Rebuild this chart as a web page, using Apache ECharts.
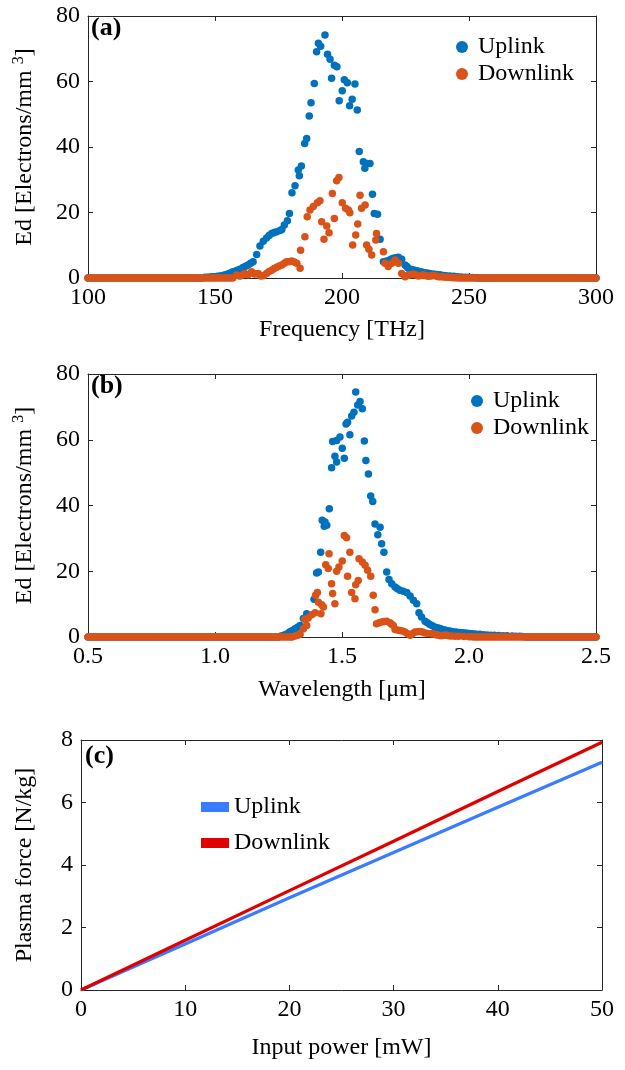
<!DOCTYPE html>
<html>
<head>
<meta charset="utf-8">
<script src="https://cdn.jsdelivr.net/npm/echarts@6/dist/echarts.min.js"></script>
<style>
html, body { margin: 0; padding: 0; background: #fff; }
#main { width: 625px; height: 1070px; }
</style>
</head>
<body>
<div id="main"></div>
<script>
// (a) Ed vs frequency [THz, Ed]
var uplinkFreq = [
	[100,0],[101,0],[102,0],[103,0],[104,0],[105,0],[106,0],[107,0],[108,0],[109,0],[110,0],[111,0],
	[112,0],[113,0],[114,0],[115,0],[116,0],[117,0],[118,0],[119,0],[120,0],[121,0],[122,0],[123,0],
	[124,0],[125,0],[126,0],[127,0],[128,0],[129,0],[130,0],[131,0],[132,0],[133,0],[134,0],[135,0],
	[136,0],[137,0],[138,0],[139,0],[140,0],[141,0],[142,0],[143,0],[144,0],[145,0],
	[146,0.2],[147,0.25],[148,0.3],[149,0.35],[150,0.4],[151,0.5],[152,0.6],[153,0.8],[154,1.0],[155,1.2],
	[156,1.5],[157,1.9],[158.5,2.3],[159.7,2.7],[161,3.2],[162,3.6],[163,4.0],[164,4.5],[165,5.0],
	[166.4,7.2],[167.7,9.8],[169,11.2],[170.3,12.2],[171.3,13.0],[172.3,13.6],[173.3,13.9],[174.3,14.1],
	[175.6,14.5],[176.3,14.8],[177.3,16.2],[178.5,17.5],[179.3,19.7],[180.3,26],[181.5,28.2],[182.8,33],
	[183.2,31.2],[184,34.2],[185.3,41.1],[186.1,42.6],[187.1,49.5],[187.8,53.5],[189.1,59.4],[190,69.1],
	[190.7,71.7],[191.6,70.8],[193.3,74.2],[194.3,68.3],[195.3,66.8],[195.9,61],[197,65],[198,64.5],
	[198.9,54.1],[200.1,57.2],[200.9,60.5],[202.1,59.6],[203,52.6],[204,54.6],[205.1,59.2],[206,51.3],
	[206.8,38.6],[208.4,35.5],[209,33.5],[209.7,35],[211,35],[212,25.6],[212.7,19.7],[214,19.5],[215,11.8],
	[216.3,5.0],[217.2,5.1],[218.2,5.3],[219.2,5.7],[220.2,6.0],[221.2,6.2],[222.2,6.3],[223.5,5.7],
	[224.8,4.0],[225.5,3.5],[226.1,3.0],[227.5,2.6],[228.5,2.4],[229.5,2.2],[230.5,2.0],[231.5,1.8],
	[232.5,1.6],[233.5,1.5],[234.5,1.4],[236,1.2],[237.3,1.1],[238.6,1.0],[240,0.8],[241,0.7],[242.5,0.6],
	[244,0.5],[245.5,0.4],[247,0.3],[248.5,0.25],[250,0.2],[251.5,0.15],[253,0.1],
	[254,0],[255,0],[256,0],[257,0],[258,0],[259,0],[260,0],[261,0],[262,0],[263,0],[264,0],[265,0],
	[266,0],[267,0],[268,0],[269,0],[270,0],[271,0],[272,0],[273,0],[274,0],[275,0],[276,0],[277,0],
	[278,0],[279,0],[280,0],[281,0],[282,0],[283,0],[284,0],[285,0],[286,0],[287,0],[288,0],[289,0],
	[290,0],[291,0],[292,0],[293,0],[294,0],[295,0],[296,0],[297,0],[298,0],[299,0],[300,0]
];
var downlinkFreq = [
	[100,0],[101,0],[102,0],[103,0],[104,0],[105,0],[106,0],[107,0],[108,0],[109,0],[110,0],[111,0],
	[112,0],[113,0],[114,0],[115,0],[116,0],[117,0],[118,0],[119,0],[120,0],[121,0],[122,0],[123,0],
	[124,0],[125,0],[126,0],[127,0],[128,0],[129,0],[130,0],[131,0],[132,0],[133,0],[134,0],[135,0],
	[136,0],[137,0],[138,0],[139,0],[140,0],[141,0],[142,0],[143,0],[144,0],[145,0],[146,0],[147,0],
	[148,0],[149,0],[150,0],[151,0],[152,0],[153,0],[154,0],[155,0],[156,0],[157,0],
	[158.5,0.9],[159.3,0.7],[160,0.6],[161,1.0],[161.8,1.4],[163,1.0],[164.4,1.9],[165.5,1.2],[166.2,1.3],
	[167,1.4],[168,0.6],[169,0.7],[170.3,1.4],[171.3,2.0],[172.3,2.4],[173.3,2.9],[174.3,3.3],[175.3,3.7],
	[176.3,4.0],[177.3,4.5],[178.2,5.0],[179.2,5.0],[180.2,5.2],[181.2,4.9],[182.2,4.5],[183.5,3.0],
	[183.7,8.5],[185.4,12.6],[186.3,18.7],[187.4,20.8],[188.7,21.8],[190.3,23],[191.3,23.6],[192,17.2],
	[192.9,11.8],[194,15.9],[194.9,13.8],[196.2,25.8],[197,18.2],[197.9,29.7],[198.8,30.7],[200.1,23],
	[201.4,21.3],[202.5,20.8],[203.1,19.9],[204.2,10.1],[205.4,13.1],[206.2,16.5],[207.1,25.3],[207.7,21.3],
	[209.1,22.3],[209.7,10.1],[210.6,8.8],[211.7,7.0],[213.3,11.6],[213.6,13.6],[216.3,8.0],[216.9,4.5],
	[218.2,3.5],[219.6,4.5],[220.9,5.5],[222.2,4.5],[223.5,1.4],[224.8,0.4],[225,0.6],[226,0.8],[227,1.0],
	[228,1.2],[229,0.9],[230,0.6],[231,0.8],[232,1.0],[233,0.7],[234,0.5],[235,0.6],[236,0.8],[237,0.6],
	[238,0.4],[239,0.35],[240,0.3],[241,0.25],[242,0.2],[243,0.15],[244,0.1],[245,0.1],
	[246,0],[247,0],[248,0],[249,0],[250,0],[251,0],[252,0],[253,0],[254,0],[255,0],[256,0],[257,0],
	[258,0],[259,0],[260,0],[261,0],[262,0],[263,0],[264,0],[265,0],[266,0],[267,0],[268,0],[269,0],
	[270,0],[271,0],[272,0],[273,0],[274,0],[275,0],[276,0],[277,0],[278,0],[279,0],[280,0],[281,0],
	[282,0],[283,0],[284,0],[285,0],[286,0],[287,0],[288,0],[289,0],[290,0],[291,0],[292,0],[293,0],
	[294,0],[295,0],[296,0],[297,0],[298,0],[299,0],[300,0]
];

// (b) Ed vs wavelength [um, Ed]
var uplinkWave = [
	[0.5,0],[0.51,0],[0.52,0],[0.53,0],[0.54,0],[0.55,0],[0.56,0],[0.57,0],[0.58,0],[0.59,0],
	[0.6,0],[0.61,0],[0.62,0],[0.63,0],[0.64,0],[0.65,0],[0.66,0],[0.67,0],[0.68,0],[0.69,0],
	[0.7,0],[0.71,0],[0.72,0],[0.73,0],[0.74,0],[0.75,0],[0.76,0],[0.77,0],[0.78,0],[0.79,0],
	[0.8,0],[0.81,0],[0.82,0],[0.83,0],[0.84,0],[0.85,0],[0.86,0],[0.87,0],[0.88,0],[0.89,0],
	[0.9,0],[0.91,0],[0.92,0],[0.93,0],[0.94,0],[0.95,0],[0.96,0],[0.97,0],[0.98,0],[0.99,0],
	[1.0,0],[1.01,0],[1.02,0],[1.03,0],[1.04,0],[1.05,0],[1.06,0],[1.07,0],[1.08,0],[1.09,0],
	[1.1,0],[1.11,0],[1.12,0],[1.13,0],[1.14,0],[1.15,0],[1.16,0],[1.17,0],[1.18,0],[1.19,0],
	[1.2,0],[1.21,0],[1.22,0],[1.23,0],[1.24,0],[1.25,0],
	[1.26,0.3],[1.27,0.5],[1.28,0.8],[1.29,1.2],[1.295,1.6],[1.305,2.0],[1.315,2.5],[1.325,3.0],[1.335,3.5],
	[1.348,5.6],[1.361,7.1],[1.39,11.5],[1.40,19.5],[1.407,19.8],[1.416,25.8],[1.422,35.5],[1.430,33.7],
	[1.433,35],[1.440,34],[1.450,39],[1.459,51.5],[1.463,59.5],[1.472,55],[1.479,59.8],[1.479,53.2],
	[1.492,60.8],[1.501,57.4],[1.509,54.4],[1.516,64.8],[1.522,65.3],[1.531,61.5],[1.538,67.2],[1.547,68.4],
	[1.554,74.5],[1.562,70.6],[1.571,71.6],[1.580,69.4],[1.588,59.6],[1.594,53.7],[1.604,49.6],[1.613,42.9],
	[1.621,41.2],[1.630,34.4],[1.641,31.1],[1.650,33.4],[1.656,28.4],[1.665,25.8],[1.676,19.8],[1.685,17.5],
	[1.696,16.2],[1.709,15.2],[1.718,14.7],[1.728,14.2],[1.741,13.9],[1.755,13.5],[1.768,12.5],[1.781,11.2],
	[1.794,10.1],[1.803,7.4],[1.813,6.1],[1.827,4.8],[1.836,4.3],[1.846,3.8],[1.856,3.4],[1.866,3.0],
	[1.876,2.8],[1.886,2.6],[1.896,2.3],[1.905,2.1],[1.915,1.9],[1.925,1.8],[1.937,1.6],[1.95,1.5],
	[1.963,1.4],[1.976,1.3],[1.988,1.2],[2.0,1.1],[2.01,1.0],[2.02,0.9],[2.03,0.85],[2.043,0.8],
	[2.056,0.7],[2.07,0.6],[2.085,0.55],[2.1,0.5],[2.117,0.45],[2.134,0.4],[2.15,0.35],[2.17,0.3],
	[2.185,0.25],[2.2,0.2],[2.21,0.15],[2.22,0.1],
	[2.23,0],[2.24,0],[2.25,0],[2.26,0],[2.27,0],[2.28,0],[2.29,0],[2.3,0],[2.31,0],[2.32,0],
	[2.33,0],[2.34,0],[2.35,0],[2.36,0],[2.37,0],[2.38,0],[2.39,0],[2.4,0],[2.41,0],[2.42,0],
	[2.43,0],[2.44,0],[2.45,0],[2.46,0],[2.47,0],[2.48,0],[2.49,0],[2.5,0]
];
var downlinkWave = [
	[0.5,0],[0.51,0],[0.52,0],[0.53,0],[0.54,0],[0.55,0],[0.56,0],[0.57,0],[0.58,0],[0.59,0],
	[0.6,0],[0.61,0],[0.62,0],[0.63,0],[0.64,0],[0.65,0],[0.66,0],[0.67,0],[0.68,0],[0.69,0],
	[0.7,0],[0.71,0],[0.72,0],[0.73,0],[0.74,0],[0.75,0],[0.76,0],[0.77,0],[0.78,0],[0.79,0],
	[0.8,0],[0.81,0],[0.82,0],[0.83,0],[0.84,0],[0.85,0],[0.86,0],[0.87,0],[0.88,0],[0.89,0],
	[0.9,0],[0.91,0],[0.92,0],[0.93,0],[0.94,0],[0.95,0],[0.96,0],[0.97,0],[0.98,0],[0.99,0],
	[1.0,0],[1.01,0],[1.02,0],[1.03,0],[1.04,0],[1.05,0],[1.06,0],[1.07,0],[1.08,0],[1.09,0],
	[1.1,0],[1.11,0],[1.12,0],[1.13,0],[1.14,0],[1.15,0],[1.16,0],[1.17,0],[1.18,0],[1.19,0],
	[1.2,0],[1.21,0],[1.22,0],[1.23,0],[1.24,0],[1.25,0],[1.26,0],[1.27,0],[1.28,0],[1.29,0],[1.3,0],
	[1.305,0.1],[1.315,0.3],[1.325,0.5],[1.335,0.8],[1.348,2.5],[1.354,5.4],[1.361,3.5],[1.367,5.8],
	[1.381,6.8],[1.394,7.4],[1.396,12.7],[1.403,13.5],[1.407,10.6],[1.417,7.1],[1.420,9.8],[1.427,9.1],
	[1.436,22],[1.446,20.8],[1.449,25.3],[1.459,16.2],[1.463,13.2],[1.472,10.1],[1.479,20],[1.488,21.3],
	[1.501,23.1],[1.509,30.9],[1.518,30.2],[1.522,18.5],[1.531,25.8],[1.538,13.5],[1.551,11.6],[1.554,15.9],
	[1.564,17.2],[1.567,23.8],[1.580,22.8],[1.591,21.8],[1.601,20.3],[1.613,18.5],[1.623,12.7],[1.630,8.3],
	[1.636,4.0],[1.646,4.3],[1.656,4.6],[1.666,4.7],[1.676,4.8],[1.689,4.3],[1.695,3.9],[1.702,3.5],
	[1.709,2.3],[1.718,2.1],[1.728,2.0],[1.738,1.8],[1.748,1.5],[1.758,1.0],[1.768,0.5],[1.777,1.0],
	[1.787,1.5],[1.797,1.6],[1.807,1.7],[1.817,1.5],[1.827,1.2],[1.84,1.1],[1.853,1.0],[1.86,0.9],
	[1.87,0.7],[1.88,0.5],[1.89,0.4],[1.90,0.5],[1.91,0.6],[1.92,0.4],[1.93,0.3],[1.945,0.25],[1.96,0.2],
	[1.98,0.15],[2.0,0.1],[2.01,0.05],
	[2.02,0],[2.03,0],[2.04,0],[2.05,0],[2.06,0],[2.07,0],[2.08,0],[2.09,0],[2.1,0],[2.11,0],
	[2.12,0],[2.13,0],[2.14,0],[2.15,0],[2.16,0],[2.17,0],[2.18,0],[2.19,0],[2.2,0],[2.21,0],
	[2.22,0],[2.23,0],[2.24,0],[2.25,0],[2.26,0],[2.27,0],[2.28,0],[2.29,0],[2.3,0],[2.31,0],
	[2.32,0],[2.33,0],[2.34,0],[2.35,0],[2.36,0],[2.37,0],[2.38,0],[2.39,0],[2.4,0],[2.41,0],
	[2.42,0],[2.43,0],[2.44,0],[2.45,0],[2.46,0],[2.47,0],[2.48,0],[2.49,0],[2.5,0]
];

// (c) plasma force vs input power
var inputPower = [0, 10, 20, 30, 40, 50];
var uplinkForce = [0, 1.47, 2.95, 4.40, 5.85, 7.29];
var downlinkForce = [0, 1.59, 3.18, 4.76, 6.35, 7.93];

var FONT = 'Liberation Serif';
var FS = 24;
var AXIS_COLOR = '#262626';
var C_UP = '#0072BD';
var C_DOWN = '#D95319';
var C_UP2 = '#3A7CFF';
var C_DOWN2 = '#E00000';

function pairs(xs, ys) {
	var out = [];
	for (var i = 0; i < xs.length; i++) out.push([xs[i], ys[i]]);
	return out;
}

function axisBase(gi, min, max, step) {
	return {
		gridIndex : gi, type : 'value', min : min, max : max, interval : step,
		axisLine : { show : true, onZero : false, lineStyle : { color : AXIS_COLOR, width : 1 } },
		axisTick : { show : true, inside : true, length : 5, lineStyle : { color : AXIS_COLOR } },
		splitLine : { show : false }
	};
}

// bottom axis + plain top axis (box)
function xAxes(gi, min, max, step, name, gap, fmt) {
	var bottom = axisBase(gi, min, max, step);
	bottom.position = 'bottom';
	bottom.name = name;
	bottom.nameLocation = 'middle';
	bottom.nameGap = gap;
	bottom.nameTextStyle = { fontFamily : FONT, fontSize : FS, color : '#000' };
	bottom.axisLabel = { fontFamily : FONT, fontSize : FS, color : '#000', margin : 8, formatter : fmt };
	var top = axisBase(gi, min, max, step);
	top.position = 'top';
	top.axisLabel = { show : false };
	return [ bottom, top ];
}

function yAxes(gi, min, max, step, name, gap) {
	var left = axisBase(gi, min, max, step);
	left.position = 'left';
	left.name = name;
	left.nameLocation = 'middle';
	left.nameGap = gap;
	left.nameTextStyle = {
		fontFamily : FONT, fontSize : FS, color : '#000',
		rich : { sup : { fontFamily : FONT, fontSize : 16, color : '#000', padding : [ 0, 0, 11, 0 ] } }
	};
	left.axisLabel = { fontFamily : FONT, fontSize : FS, color : '#000', margin : 8 };
	var right = axisBase(gi, min, max, step);
	right.position = 'right';
	right.axisLabel = { show : false };
	return [ left, right ];
}

var edName = 'Ed [Electrons/mm {sup|3}]';
var fmt1 = function(v) { return v.toFixed(1); };

var xs = [].concat(
	xAxes(0, 100, 300, 50, 'Frequency [THz]', 40),
	xAxes(1, 0.5, 2.5, 0.5, 'Wavelength [\u03bcm]', 41, fmt1),
	xAxes(2, 0, 50, 10, 'Input power [mW]', 46)
);
var ys = [].concat(
	yAxes(0, 0, 80, 20, edName, 50),
	yAxes(1, 0, 80, 20, edName, 50),
	yAxes(2, 0, 8, 2, 'Plasma force [N/kg]', 44)
);

function scatter(name, data, xi, yi, color) {
	return {
		name : name, type : 'scatter', data : data,
		xAxisIndex : xi, yAxisIndex : yi,
		symbol : 'circle', symbolSize : 7.5,
		itemStyle : { color : color, opacity : 1 },
		silent : true, animation : false
	};
}

function line(name, data, xi, yi, color) {
	return {
		name : name, type : 'line', data : data,
		xAxisIndex : xi, yAxisIndex : yi,
		showSymbol : false, symbol : 'none',
		lineStyle : { color : color, width : 3.2 },
		itemStyle : { color : color },
		silent : true, animation : false
	};
}

function legendCircle(left, top) {
	return {
		left : left, top : top, orient : 'vertical', padding : 0,
		itemWidth : 22, itemHeight : 12, itemGap : 3,
		selectedMode : false,
		textStyle : { fontFamily : FONT, fontSize : FS, color : '#000' },
		data : [
			{ name : 'Uplink', icon : 'circle', itemStyle : { color : C_UP } },
			{ name : 'Downlink', icon : 'circle', itemStyle : { color : C_DOWN } }
		]
	};
}

var labelStyle = { fontFamily : FONT, fontSize : 26, fontWeight : 'bold', color : '#000' };

var option = {
	backgroundColor : '#fff',
	animation : false,
	title : [
		{ text : '(a)', left : 91, top : 15, padding : 0, textStyle : labelStyle },
		{ text : '(b)', left : 91, top : 373, padding : 0, textStyle : labelStyle },
		{ text : '(c)', left : 85, top : 743, padding : 0, textStyle : labelStyle }
	],
	grid : [
		{ left : 88, top : 16, width : 508, height : 262 },
		{ left : 88, top : 374, width : 508, height : 263 },
		{ left : 81, top : 740, width : 521, height : 250 }
	],
	legend : [
		legendCircle(456, 35),
		legendCircle(471, 389),
		{
			left : 201, top : 795, orient : 'vertical', padding : 0,
			itemWidth : 28, itemHeight : 10, itemGap : 12,
			selectedMode : false,
			textStyle : { fontFamily : FONT, fontSize : FS, color : '#000' },
			data : [
				{ name : 'Uplink', icon : 'rect', itemStyle : { color : C_UP2 } },
				{ name : 'Downlink', icon : 'rect', itemStyle : { color : C_DOWN2 } }
			]
		}
	],
	xAxis : xs,
	yAxis : ys,
	series : [
		scatter('Uplink', uplinkFreq, 0, 0, C_UP),
		scatter('Downlink', downlinkFreq, 0, 0, C_DOWN),
		scatter('Uplink', uplinkWave, 2, 2, C_UP),
		scatter('Downlink', downlinkWave, 2, 2, C_DOWN),
		line('Uplink', pairs(inputPower, uplinkForce), 4, 4, C_UP2),
		line('Downlink', pairs(inputPower, downlinkForce), 4, 4, C_DOWN2)
	]
};

var chart = echarts.init(document.getElementById('main'));
chart.setOption(option);
</script>
</body>
</html>
